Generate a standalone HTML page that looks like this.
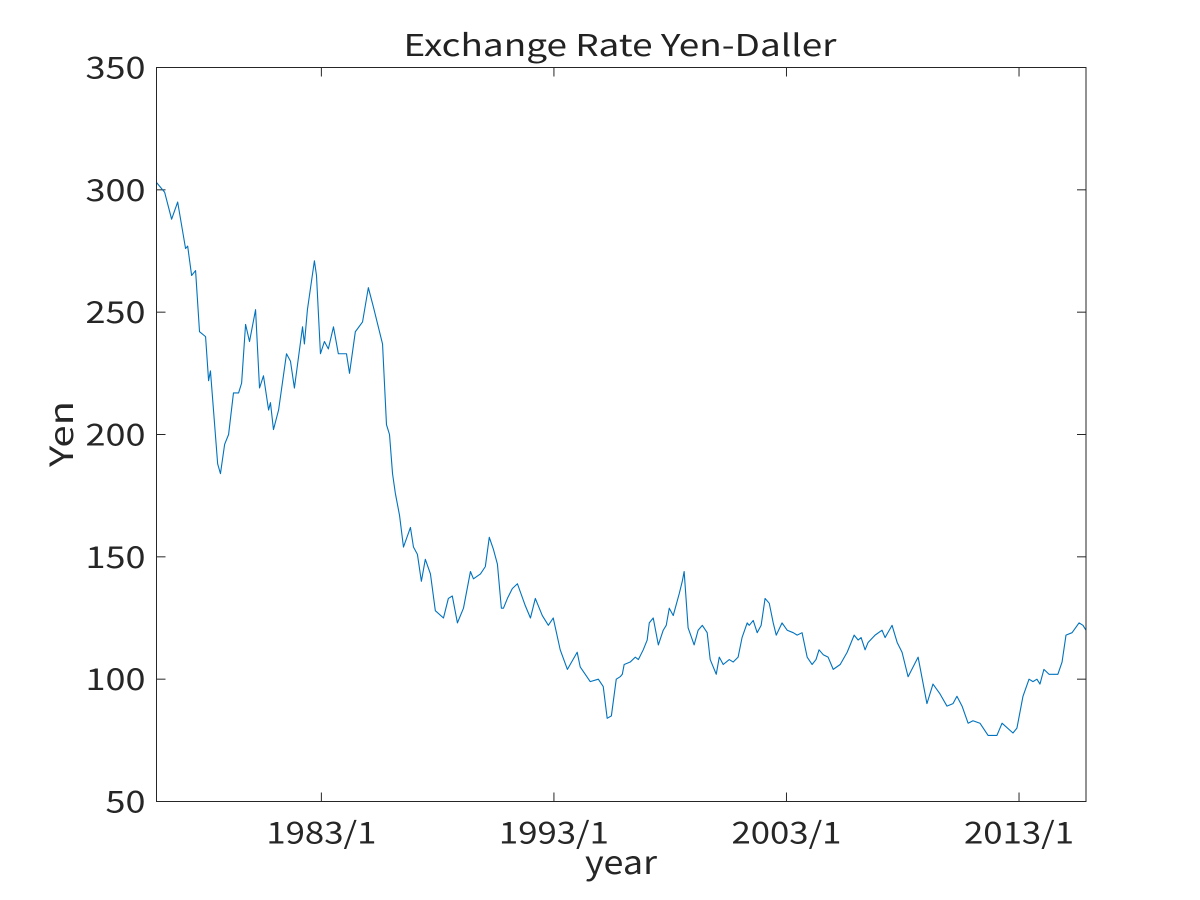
<!DOCTYPE html>
<html><head><meta charset="utf-8">
<style>
html,body{margin:0;padding:0;background:#fff;}
svg{display:block;font-family:"Noto Sans CJK JP","Liberation Sans",sans-serif;}
</style></head>
<body>
<svg id="chart" width="1200" height="900" viewBox="0 0 1200 900">
<rect x="0" y="0" width="1200" height="900" fill="#fff"/>
<text x="620" y="56" font-size="30" text-anchor="middle" fill="#222" textLength="433" lengthAdjust="spacingAndGlyphs">Exchange Rate Yen-Daller</text>
<g id="yticks"></g>
<g id="xticks"></g>
<path id="series" fill="none" stroke="#0072BD" stroke-width="1.1" stroke-linejoin="round"/>
<rect x="156.5" y="67.5" width="929.5" height="734" fill="none" stroke="#262626" stroke-width="1"/>
<text x="621" y="874" font-size="32" text-anchor="middle" fill="#262626" textLength="72" lengthAdjust="spacingAndGlyphs">year</text>
<text transform="translate(73,434) rotate(-90)" font-size="32" text-anchor="middle" fill="#262626" textLength="66" lengthAdjust="spacingAndGlyphs">Yen</text>
</svg>
<script>
const yTickValues = [50,100,150,200,250,300,350];
const xTickYears = [1983,1993,2003,2013];
const xTickLabels = ["1983/1","1993/1","2003/1","2013/1"];
const years = [1975.91,1976.26,1976.56,1976.82,1977.16,1977.25,1977.42,1977.59,1977.76,1978.02,1978.15,1978.23,1978.54,1978.66,1978.84,1979.01,1979.22,1979.44,1979.57,1979.74,1979.91,1980.17,1980.34,1980.51,1980.73,1980.81,1980.94,1981.16,1981.50,1981.67,1981.84,1982.19,1982.27,1982.40,1982.70,1982.79,1982.96,1983.13,1983.30,1983.52,1983.73,1984.08,1984.21,1984.46,1984.77,1985.02,1985.24,1985.63,1985.80,1985.93,1986.06,1986.18,1986.36,1986.53,1986.83,1986.96,1987.13,1987.30,1987.47,1987.69,1987.90,1988.25,1988.46,1988.63,1988.85,1989.11,1989.41,1989.54,1989.84,1990.05,1990.22,1990.40,1990.57,1990.74,1990.83,1991.00,1991.21,1991.43,1991.77,1991.99,1992.20,1992.50,1992.76,1992.97,1993.27,1993.58,1994.00,1994.13,1994.56,1994.91,1995.12,1995.29,1995.47,1995.68,1995.85,1995.94,1996.02,1996.28,1996.50,1996.63,1996.84,1997.01,1997.10,1997.27,1997.49,1997.70,1997.83,1997.96,1998.13,1998.39,1998.52,1998.60,1998.77,1999.03,1999.20,1999.38,1999.59,1999.72,1999.98,2000.11,2000.28,2000.54,2000.71,2000.92,2001.09,2001.31,2001.40,2001.57,2001.74,2001.91,2002.08,2002.26,2002.43,2002.56,2002.81,2003.03,2003.29,2003.46,2003.67,2003.89,2004.10,2004.27,2004.40,2004.58,2004.79,2005.01,2005.31,2005.61,2005.91,2006.08,2006.21,2006.38,2006.51,2006.81,2007.11,2007.24,2007.54,2007.76,2007.97,2008.23,2008.66,2009.04,2009.30,2009.60,2009.90,2010.16,2010.33,2010.55,2010.81,2011.02,2011.32,2011.67,2012.05,2012.27,2012.74,2012.91,2013.17,2013.43,2013.60,2013.77,2013.90,2014.07,2014.29,2014.67,2014.85,2015.02,2015.28,2015.58,2015.75,2015.88];
const yen = [303,299,288,295,276,277,265,267,242,240,222,226,188,184,196,200,217,217,221,245,238,251,219,224,210,213,202,210,233,230,219,244,237,251,271,265,233,238,235,244,233,233,225,242,246,260,252,237,204,200,184,176,167,154,162,154,151,140,149,143,128,125,133,134,123,129,144,141,143,146,158,153,147,129,129,133,137,139,130,125,133,126,122,125,112,104,111,105,99,100,97,84,85,100,101,102,106,107,109,108,112,116,123,125,114,120,122,129,126,135,140,144,121,114,120,122,119,108,102,109,106,108,107,109,117,123,122,124,119,122,133,131,123,118,123,120,119,118,119,109,106,108,112,110,109,104,106,111,118,116,117,112,115,118,120,117,122,115,111,101,109,90,98,94,89,90,93,89,82,83,82,77,77,82,78,80,93,100,99,100,98,104,102,102,107,118,119,123,122,120];

const X0=156.5, X1=1086, Y0=801.5, Y1=67.5;
const xMin=1975.91, xMax=2015.88, yMin=50, yMax=350;
function xScale(v){return X0+(v-xMin)/(xMax-xMin)*(X1-X0);}
function yScale(v){return Y0-(v-yMin)/(yMax-yMin)*(Y0-Y1);}
const NS="http://www.w3.org/2000/svg";
const yg=document.getElementById('yticks');
yTickValues.forEach(v=>{
  const y=yScale(v);
  const t1=document.createElementNS(NS,'line');
  t1.setAttribute('x1',X0);t1.setAttribute('x2',X0+9);t1.setAttribute('y1',y);t1.setAttribute('y2',y);t1.setAttribute('stroke','#262626');
  
  
  yg.appendChild(t1);
  const t2=document.createElementNS(NS,'line');
  t2.setAttribute('x1',X1-9);t2.setAttribute('x2',X1);t2.setAttribute('y1',y);t2.setAttribute('y2',y);t2.setAttribute('stroke','#262626');
  
  
  yg.appendChild(t2);
  const tx=document.createElementNS(NS,'text');
  tx.setAttribute('x',X0-11);tx.setAttribute('y',y+11);tx.setAttribute('text-anchor','end');tx.setAttribute('font-size','30');tx.setAttribute('fill','#262626');
  tx.setAttribute('textLength',String(v).length*20);tx.setAttribute('lengthAdjust','spacingAndGlyphs');
  tx.textContent=v;
  
  
  yg.appendChild(tx);
});
const xg=document.getElementById('xticks');
xTickYears.forEach((v,i)=>{
  const x=xScale(v);
  const t1=document.createElementNS(NS,'line');
  t1.setAttribute('x1',x);t1.setAttribute('x2',x);t1.setAttribute('y1',Y0);t1.setAttribute('y2',Y0-9);t1.setAttribute('stroke','#262626');
  
  
  xg.appendChild(t1);
  const t2=document.createElementNS(NS,'line');
  t2.setAttribute('x1',x);t2.setAttribute('x2',x);t2.setAttribute('y1',Y1);t2.setAttribute('y2',Y1+9);t2.setAttribute('stroke','#262626');
  
  
  xg.appendChild(t2);
  const tx=document.createElementNS(NS,'text');
  tx.setAttribute('x',x);tx.setAttribute('y',Y0+42);tx.setAttribute('text-anchor','middle');tx.setAttribute('font-size','30');tx.setAttribute('fill','#262626');
  tx.setAttribute('textLength','110');tx.setAttribute('lengthAdjust','spacingAndGlyphs');
  tx.textContent=xTickLabels[i];
  
  
  xg.appendChild(tx);
});
let d='';
years.forEach((yr,i)=>{d+=(i?'L':'M')+xScale(yr).toFixed(2)+','+yScale(yen[i]).toFixed(2);});
document.getElementById('series').setAttribute('d',d);
</script>
</body></html>
